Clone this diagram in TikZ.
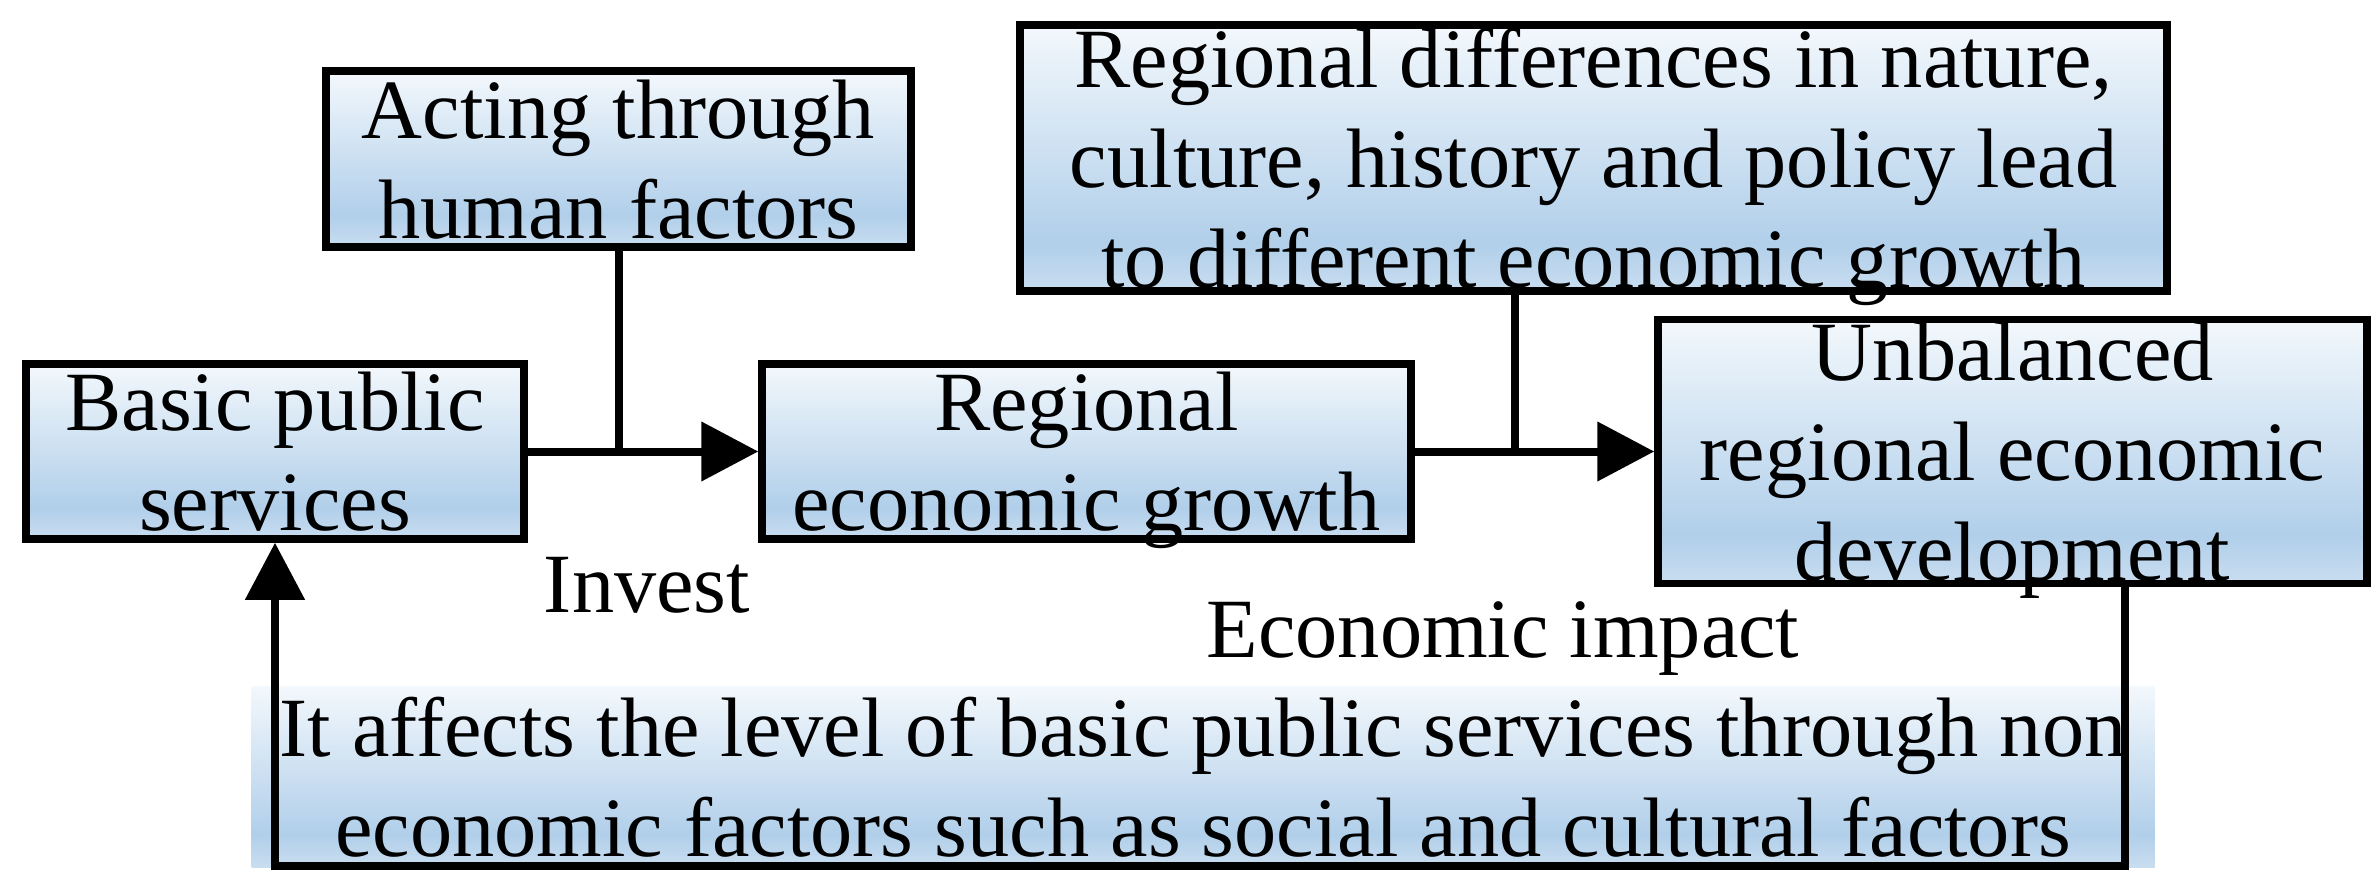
\documentclass[tikz,border=0pt]{standalone}
\usepackage{fontspec}
\setmainfont{Liberation Serif}
\usetikzlibrary{arrows.meta}

\definecolor{bftop}{RGB}{243,248,252}
\definecolor{bfmid}{RGB}{177,207,234}
\definecolor{bfbot}{RGB}{201,221,240}
\pgfdeclareverticalshading{boxfill}{100bp}{color(0bp)=(bfbot); color(25bp)=(bfbot); color(34bp)=(bfmid); color(75bp)=(bftop); color(100bp)=(bftop)}

\begin{document}
\begin{tikzpicture}[x=1cm,y=1cm,
		box/.style={draw,line width=0.75mm,shading=boxfill,align=center,inner sep=0pt,text depth=0pt,font=\fontsize{24}{28.5}\selectfont},
		lbl/.style={inner sep=0pt,font=\fontsize{24}{28.5}\selectfont},
		link/.style={line width=0.8mm},
		flow/.style={line width=0.8mm,-{Triangle[length=5.7mm,width=5.8mm]}}]
			\useasboundingbox (0,0) rectangle (23.75,-8.95);
			
			% boxes
			
			\node[box,minimum width=4.98cm,minimum height=1.75cm] (basic) at (2.75,-4.515) {Basic public\\services};
			\node[box,minimum width=5.85cm,minimum height=1.76cm] (human) at (6.185,-1.59) {Acting through\\human factors};
			\node[box,minimum width=6.49cm,minimum height=1.75cm] (growth) at (10.865,-4.515) {Regional\\economic growth};
			\node[box,minimum width=11.47cm,minimum height=2.66cm] (differ) at (15.935,-1.58) {Regional differences in nature,\\culture, history and policy lead\\to different economic growth};
			\node[box,minimum width=7.09cm,minimum height=2.64cm] (unbal) at (20.125,-4.515) {Unbalanced\\regional economic\\development};
			\node[box,draw=none,minimum width=19.03cm,minimum height=1.81cm] (nonecon) at (12.03,-7.765) {It affects the level of basic public services through non\\economic factors such as social and cultural factors};
			
			% labels
			
			\node[lbl,anchor=base] (invest) at (6.47,-6.12) {Invest};
			\node[lbl,anchor=base] (impact) at (15.03,-6.57) {Economic impact};
			
			% arrows
			
			\coordinate (j1) at (human.south |- basic.east);
			\coordinate (j2) at (15.15,-4.515);
			\coordinate (c1) at (21.25,-8.66);
			\draw[flow] (basic.east) -- (growth.west);
			\draw[link] (human.south) -- (j1);
			\draw[flow] (growth.east) -- (growth.east -| unbal.west);
			\draw[link] (j2 |- differ.south) -- (j2);
			\draw[flow] (unbal.south -| c1) -- (c1) -- (c1 -| basic.south) -- (basic.south);
		\end{tikzpicture}
\end{document}
